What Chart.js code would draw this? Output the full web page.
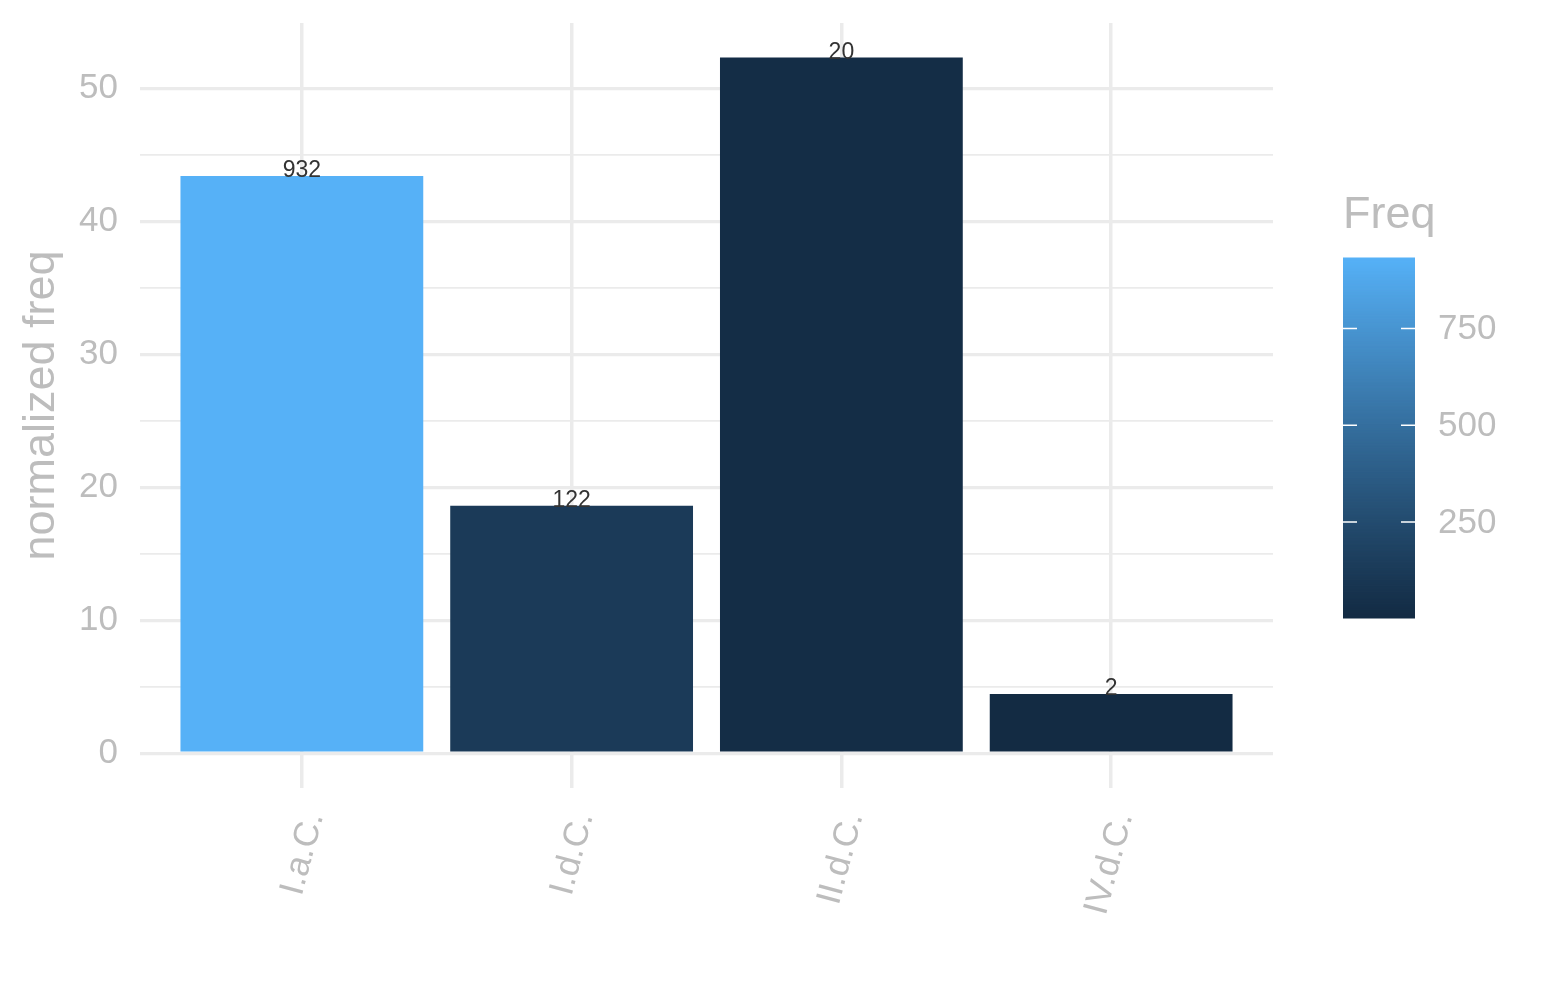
<!DOCTYPE html>
<html>
<head>
<meta charset="utf-8">
<script src="https://cdn.jsdelivr.net/npm/chart.js@4.4.1/dist/chart.umd.min.js"></script>
<style>
html,body{margin:0;padding:0;background:#fff;}
#wrap{width:1545px;height:1000px;position:relative;}
</style>
</head>
<body>
<div id="wrap"><canvas id="c" width="1545" height="1000"></canvas></div>
<script>
// ---- data ----
const categories = ['I.a.C.', 'I.d.C.', 'II.d.C.', 'IV.d.C.'];
const normFreq = [43.4, 18.6, 52.3, 4.45];
const freq = [932, 122, 20, 2];
const yTicks = [0, 5, 10, 15, 20, 25, 30, 35, 40, 45, 50];
const legendTicks = [250, 500, 750];

// ---- colour scale (ggplot default, Lab interpolation) ----
const LOW = '#132B43', HIGH = '#56B1F7';
function hexToRgb(h){return [1,3,5].map(i=>parseInt(h.substr(i,2),16));}
function srgbToLin(c){c/=255;return c<=0.04045?c/12.92:Math.pow((c+0.055)/1.055,2.4);}
function linToSrgb(c){c=c<=0.0031308?12.92*c:1.055*Math.pow(c,1/2.4)-0.055;return Math.round(Math.max(0,Math.min(1,c))*255);}
const Xn=0.95047,Yn=1,Zn=1.08883;
function f(t){return t>0.008856?Math.cbrt(t):7.787*t+16/116;}
function finv(t){return t>0.206893?t*t*t:(t-16/116)/7.787;}
function rgbToLab(rgb){
  const [r,g,b]=rgb.map(srgbToLin);
  const X=r*0.4124+g*0.3576+b*0.1805, Y=r*0.2126+g*0.7152+b*0.0722, Z=r*0.0193+g*0.1192+b*0.9505;
  const fx=f(X/Xn),fy=f(Y/Yn),fz=f(Z/Zn);
  return [116*fy-16,500*(fx-fy),200*(fy-fz)];
}
function labToRgb(lab){
  const fy=(lab[0]+16)/116, fx=fy+lab[1]/500, fz=fy-lab[2]/200;
  const X=Xn*finv(fx),Y=Yn*finv(fy),Z=Zn*finv(fz);
  const r=X*3.2406+Y*-1.5372+Z*-0.4986, g=X*-0.9689+Y*1.8758+Z*0.0415, b=X*0.0557+Y*-0.2040+Z*1.0570;
  return [linToSrgb(r),linToSrgb(g),linToSrgb(b)];
}
const labLow=rgbToLab(hexToRgb(LOW)), labHigh=rgbToLab(hexToRgb(HIGH));
const fMin=Math.min(...freq), fMax=Math.max(...freq);
function colorFor(v){
  const t=(v-fMin)/(fMax-fMin);
  const lab=labLow.map((a,i)=>a+(labHigh[i]-a)*t);
  const c=labToRgb(lab);
  return 'rgb('+c.join(',')+')';
}

const FONT = '"Liberation Sans", Arial, Helvetica, sans-serif';
const GREY = '#BDBDBD';
const GRID = '#EBEBEB';

// ---- plugins ----
const labelPlugin = {
  id:'barLabels',
  afterDatasetsDraw(chart){
    const ctx=chart.ctx;
    const meta=chart.getDatasetMeta(0);
    ctx.save();
    ctx.font='23px '+FONT;
    ctx.fillStyle='#333333';
    ctx.textAlign='center';
    ctx.textBaseline='alphabetic';
    meta.data.forEach((bar,i)=>{
      ctx.fillText(String(freq[i]), bar.x, bar.y+1);
    });
    ctx.restore();
  }
};

const colorbarPlugin = {
  id:'colorbar',
  afterDraw(chart){
    const ctx=chart.ctx;
    const x=1343, top=258, w=72, h=360;
    ctx.save();
    ctx.font='45px '+FONT;
    ctx.fillStyle=GREY;
    ctx.textAlign='left';
    ctx.textBaseline='middle';
    ctx.fillText('Freq', x, 216);
    const n=300;
    for(let i=0;i<n;i++){
      const v=fMin+(fMax-fMin)*(i+0.5)/n;
      ctx.fillStyle=colorFor(v);
      const y0=top+h-(i+1)*h/n;
      ctx.fillRect(x, y0-0.5, w, h/n+1);
    }
    ctx.font='35px '+FONT;
    ctx.textBaseline='middle';
    legendTicks.forEach(t=>{
      const y=top+h-(t-fMin)/(fMax-fMin)*h;
      ctx.strokeStyle='#ffffff';
      ctx.lineWidth=1.5;
      ctx.beginPath();
      ctx.moveTo(x,y);ctx.lineTo(x+14,y);
      ctx.moveTo(x+w-14,y);ctx.lineTo(x+w,y);
      ctx.stroke();
      ctx.fillStyle=GREY;
      ctx.fillText(String(t), x+w+23, y+1);
    });
    ctx.restore();
  }
};

const whiteBg = {
  id:'whiteBg',
  beforeDraw(chart){
    const ctx=chart.ctx;
    ctx.save();ctx.fillStyle='#fff';ctx.fillRect(0,0,chart.width,chart.height);ctx.restore();
  }
};

function zeroPad(scale){
  scale.paddingTop=0;scale.paddingBottom=0;scale.paddingLeft=0;scale.paddingRight=0;
}

new Chart(document.getElementById('c'), {
  type:'bar',
  data:{
    datasets:[{
      data: categories.map((c,i)=>({x:i, y:normFreq[i]})),
      backgroundColor: freq.map(colorFor),
      borderWidth:0,
      barPercentage:0.9,
      categoryPercentage:1.0
    }]
  },
  options:{
    responsive:false,
    animation:false,
    devicePixelRatio:1,
    layout:{padding:{top:23,right:272,left:0,bottom:0}},
    plugins:{legend:{display:false},tooltip:{enabled:false}},
    scales:{
      x:{
        type:'linear',
        min:-0.6, max:3.6,
        offset:false,
        afterBuildTicks(scale){ scale.ticks = categories.map((c,i)=>({value:i})); },
        afterFit(scale){ scale.height = 1000-788; zeroPad(scale); },
        ticks:{
          autoSkip:false,
          minRotation:75, maxRotation:75,
          padding:20,
          labelOffset:12,
          color:GREY,
          font:{family:FONT,size:35},
          callback:(v)=>categories[v]
        },
        grid:{color:GRID, lineWidth:3.5, drawTicks:false, offset:false},
        border:{display:false}
      },
      y:{
        type:'linear',
        min:-2.615, max:54.9,
        afterBuildTicks(scale){ scale.ticks = yTicks.map(v=>({value:v})); },
        afterFit(scale){ scale.width = 140; zeroPad(scale); },
        ticks:{
          padding:22,
          color:GREY,
          font:{family:FONT,size:35},
          callback:(v)=> (v%10===0 ? String(v) : '')
        },
        grid:{
          color:GRID,
          drawTicks:false,
          lineWidth:(ctx)=> (ctx.tick && ctx.tick.value%10===0 ? 3.2 : 1.8)
        },
        border:{display:false},
        title:{
          display:true,
          text:'normalized freq',
          color:GREY,
          font:{family:FONT,size:45},
          padding:{top:15,bottom:0}
        }
      }
    }
  },
  plugins:[whiteBg,labelPlugin,colorbarPlugin]
});
</script>
</body>
</html>
